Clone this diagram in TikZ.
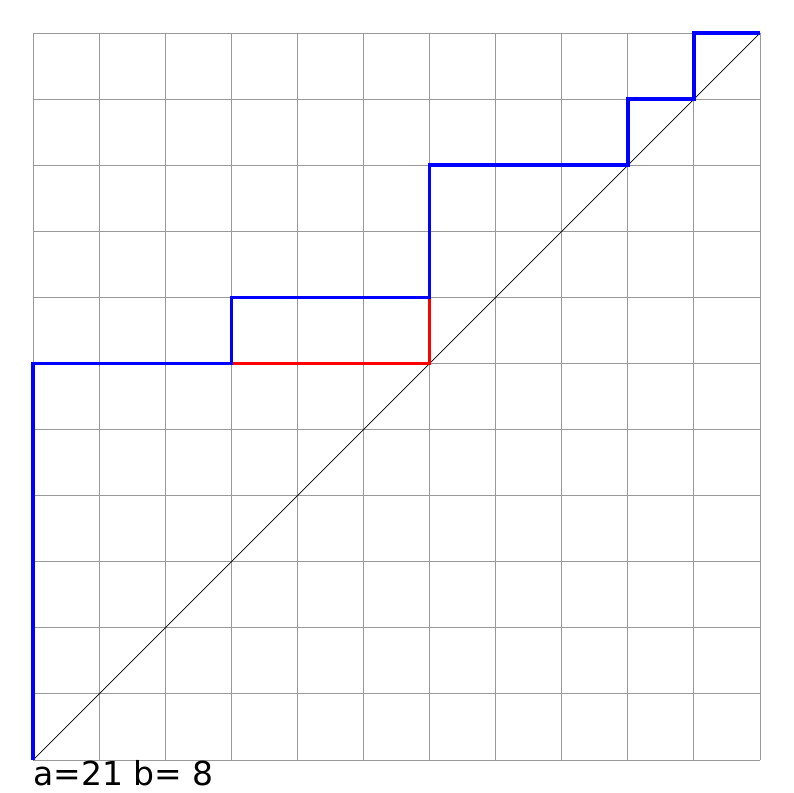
\documentclass[tikz,border=0pt]{standalone}
\usepackage{fontspec}
\setmainfont{DejaVu Sans}
\begin{document}
\begin{tikzpicture}[x=1pt,y=-1pt,
  gridline/.style={draw=gray!80,line width=0.9pt},
  diag/.style={draw=black,line width=0.7pt},
  bluepath/.style={draw=blue,line width=3.5pt,line join=miter},
  redpath/.style={draw=red,line width=3.5pt,line join=miter},
  lbl/.style={anchor=base west,inner sep=0pt,font=\fontsize{33}{33}\selectfont}]
\useasboundingbox (0,0) rectangle (793,793);
\def\cs{66.09}
\foreach \i in {0,...,11}{
  \draw[gridline] (33+\i*\cs,33) -- (33+\i*\cs,760);
  \draw[gridline] (33,33+\i*\cs) -- (760,33+\i*\cs);
}
\coordinate (o) at (33,760);
\coordinate (e) at (760,33);
\draw[diag] (o) -- (e);
\newcommand{\pt}[2]{(33+#1*\cs,760-#2*\cs)}
\draw[redpath] \pt{3}{6} -- \pt{6}{6} -- \pt{6}{7};
\draw[bluepath] \pt{0}{0} -- \pt{0}{6} -- \pt{3}{6} -- \pt{3}{7} -- \pt{6}{7} -- \pt{6}{9} -- \pt{9}{9} -- \pt{9}{10} -- \pt{10}{10} -- \pt{10}{11} -- \pt{11}{11};
\node[lbl] (label) at (33,785) {a=21 b= 8};
\end{tikzpicture}
\end{document}
